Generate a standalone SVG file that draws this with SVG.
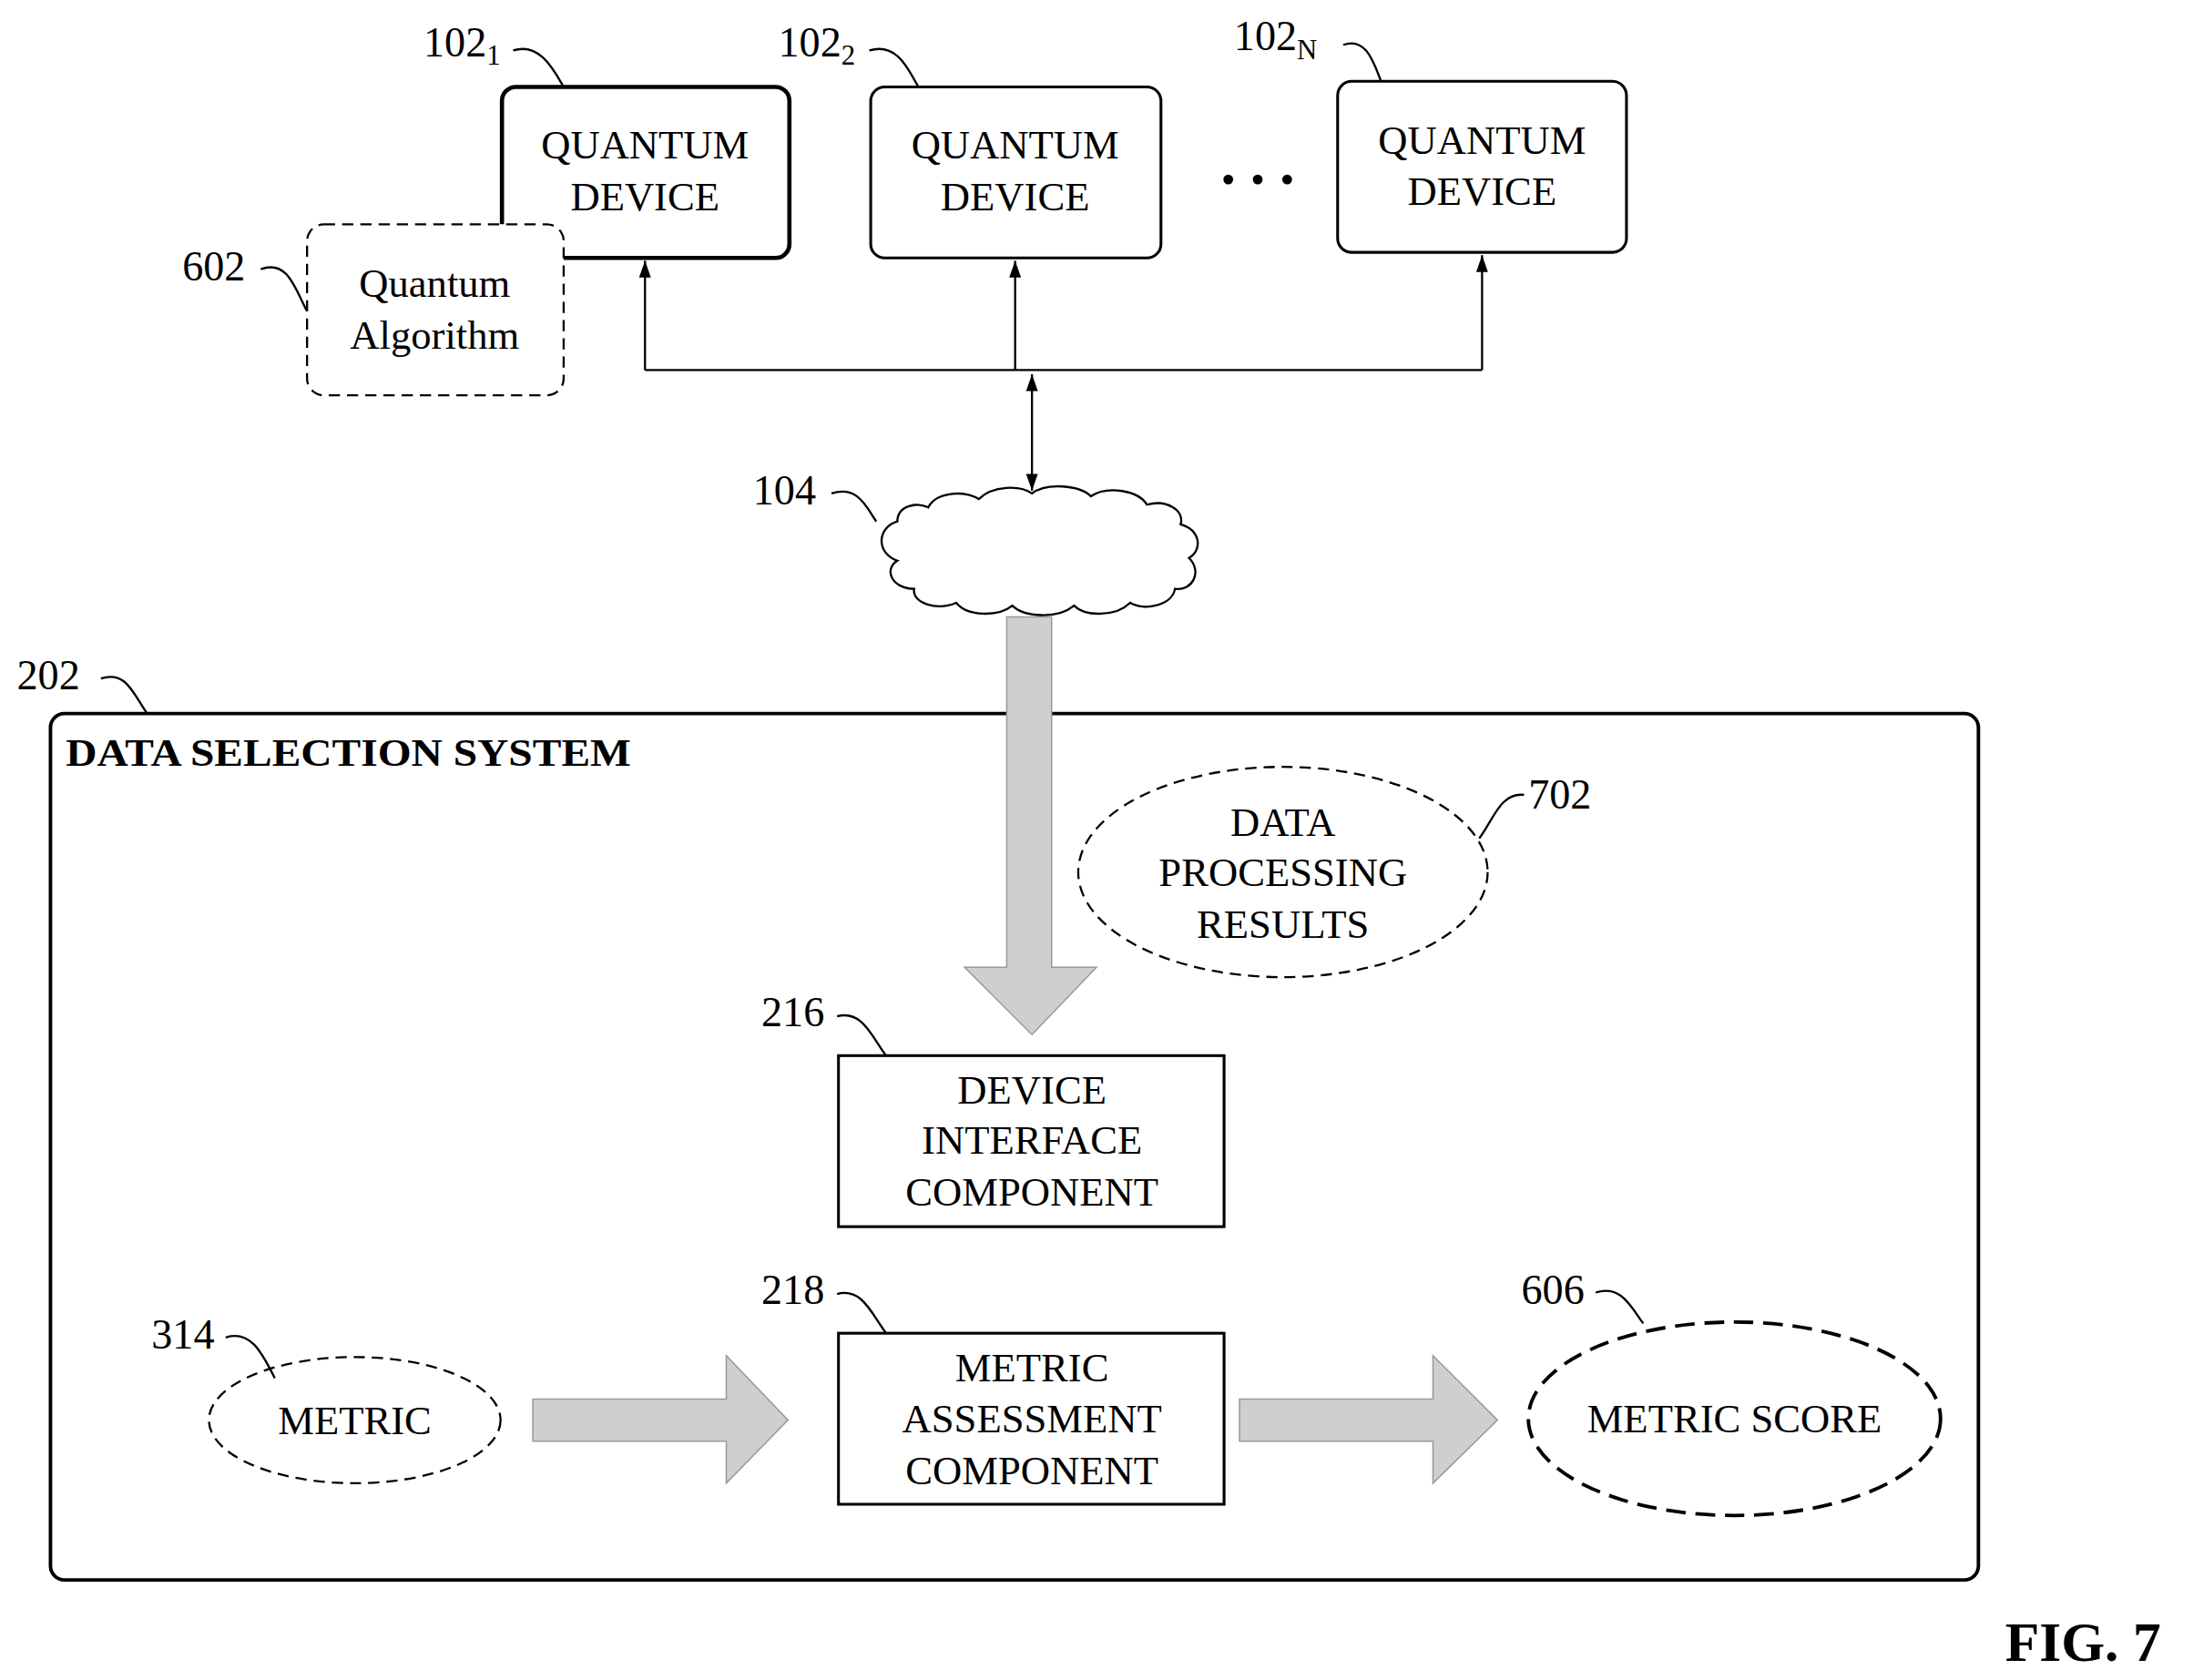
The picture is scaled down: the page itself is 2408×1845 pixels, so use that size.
<svg xmlns="http://www.w3.org/2000/svg" width="2408" height="1845" viewBox="0 0 2408 1845">
<defs>
<style>
text{font-family:"Liberation Serif","Times New Roman",serif;fill:#000}
.t{font-size:29px;text-anchor:middle}
.l{font-size:30px}
.box{fill:#fff;stroke:#000;stroke-width:2}
.dash{fill:#fff;stroke:#000;stroke-width:1.5;stroke-dasharray:8,5}
.ln{fill:none;stroke:#000;stroke-width:1.5}
.big{fill:#cfcfcf;stroke:#9a9a9a;stroke-width:1}
</style>
<marker id="ah" viewBox="0 0 10 10" refX="10" refY="5" markerWidth="12" markerHeight="12" markerUnits="userSpaceOnUse" orient="auto-start-reverse"><path d="M0,1.5 L10,5 L0,8.5 Z" fill="#000"/></marker>
</defs>
<rect width="2408" height="1845" fill="#fff"/>
<g transform="scale(1.5396)">
<g id="connectors">
<path class="ln" d="M460,264 H1057"/>
<path class="ln" d="M460,264 V186" marker-end="url(#ah)"/>
<path class="ln" d="M724,264 V186" marker-end="url(#ah)"/>
<path class="ln" d="M1057,264 V182" marker-end="url(#ah)"/>
<path class="ln" d="M736,267 V350" marker-start="url(#ah)" marker-end="url(#ah)"/>
<path class="ln" d="M736,877 V949" marker-start="url(#ah)" marker-end="url(#ah)"/>
</g>
<g id="system202">
<rect x="36" y="509" width="1375" height="618" rx="10" fill="#fff" stroke="#000" stroke-width="2.5"/>
<text x="47" y="546" style="font-size:28px;font-weight:bold" textLength="403" lengthAdjust="spacingAndGlyphs">DATA SELECTION SYSTEM</text>
<text x="12" y="492" class="l">202</text>
<path class="ln" d="M72,484 C90,478 95,495 105,509"/>
</g>
<g id="bigarrows">
<path class="big" d="M718,440 H750 V690 H782 L736,738 L688,690 H718 Z"/>
<path class="big" d="M380,998 H518 V967 L562,1013 L518,1058 V1028 H380 Z"/>
<path class="big" d="M884,998 H1022 V967 L1068,1013 L1022,1058 V1028 H884 Z"/>
</g>
<g id="qd1">
<rect x="358" y="62" width="205" height="122" rx="10" fill="#fff" stroke="#000" stroke-width="3"/>
<text x="460" y="113" class="t">QUANTUM</text><text x="460" y="150" class="t">DEVICE</text>
<text x="302" y="40" class="l">102<tspan font-size="20" dy="6">1</tspan></text>
<path class="ln" d="M366,36 C385,30 395,50 402,62"/>
</g>
<g id="qa602">
<rect x="219" y="160" width="183" height="122" rx="12" class="dash"/>
<text x="310" y="212" class="t">Quantum</text><text x="310" y="249" class="t">Algorithm</text>
<text x="130" y="200" class="l">602</text>
<path class="ln" d="M186,192 C205,185 210,205 219,222"/>
</g>
<g id="qd2">
<rect x="621" y="62" width="207" height="122" rx="10" class="box"/>
<text x="724" y="113" class="t">QUANTUM</text><text x="724" y="150" class="t">DEVICE</text>
<text x="555" y="40" class="l">102<tspan font-size="20" dy="6">2</tspan></text>
<path class="ln" d="M620,36 C640,30 648,50 655,62"/>
</g>
<g id="dots"><circle cx="876" cy="128" r="3.5"/><circle cx="897" cy="128" r="3.5"/><circle cx="918" cy="128" r="3.5"/></g>
<g id="qdN">
<rect x="954" y="58" width="206" height="122" rx="10" class="box"/>
<text x="1057" y="110" class="t">QUANTUM</text><text x="1057" y="146" class="t">DEVICE</text>
<text x="880" y="36" class="l">102<tspan font-size="20" dy="6">N</tspan></text>
<path class="ln" d="M958,32 C975,26 980,46 985,58"/>
</g>
<g id="cloud104">
<path fill="#fff" stroke="#000" stroke-width="1.5" d="M640,372 C640,360 655,358 662,362 C668,350 690,350 698,356 C708,346 728,346 736,352 C746,344 770,346 778,354 C790,346 812,350 818,360 C832,356 845,364 842,374 C856,378 858,392 848,398 C858,408 850,422 838,420 C836,432 816,436 806,430 C796,440 774,440 766,432 C754,442 730,440 722,432 C712,440 690,440 682,430 C668,436 650,430 652,420 C636,420 630,406 640,400 C624,394 626,376 640,372 Z"/>
<text x="537" y="360" class="l">104</text>
<path class="ln" d="M593,352 C612,346 618,362 625,372"/>
</g>
<g id="dpr702">
<ellipse cx="915" cy="622" rx="146" ry="75" class="dash"/>
<text x="915" y="596" class="t">DATA</text><text x="915" y="632" class="t">PROCESSING</text><text x="915" y="669" class="t">RESULTS</text>
<text x="1090" y="577" class="l">702</text>
<path class="ln" d="M1087,567 C1070,565 1065,585 1055,598"/>
</g>
<g id="dic216">
<rect x="598" y="753" width="275" height="122" class="box"/>
<text x="736" y="787" class="t">DEVICE</text><text x="736" y="823" class="t">INTERFACE</text><text x="736" y="860" class="t">COMPONENT</text>
<text x="543" y="732" class="l">216</text>
<path class="ln" d="M597,725 C615,720 622,740 632,753"/>
</g>
<g id="mac218">
<rect x="598" y="951" width="275" height="122" class="box"/>
<text x="736" y="985" class="t">METRIC</text><text x="736" y="1022" class="t">ASSESSMENT</text><text x="736" y="1059" class="t">COMPONENT</text>
<text x="543" y="930" class="l">218</text>
<path class="ln" d="M597,923 C615,918 622,938 632,951"/>
</g>
<g id="metric314">
<ellipse cx="253" cy="1013" rx="104" ry="45" class="dash"/>
<text x="253" y="1023" class="t">METRIC</text>
<text x="108" y="962" class="l">314</text>
<path class="ln" d="M161,954 C180,948 188,968 196,983"/>
</g>
<g id="score606">
<ellipse cx="1237" cy="1012" rx="147" ry="69" fill="#fff" stroke="#000" stroke-width="2.5" stroke-dasharray="14,7"/>
<text x="1237" y="1022" class="t">METRIC SCORE</text>
<text x="1085" y="930" class="l">606</text>
<path class="ln" d="M1138,922 C1157,916 1164,934 1172,944"/>
</g>
<text x="1430" y="1185" style="font-size:40px;font-weight:bold">FIG. 7</text>
</g>
</svg>
